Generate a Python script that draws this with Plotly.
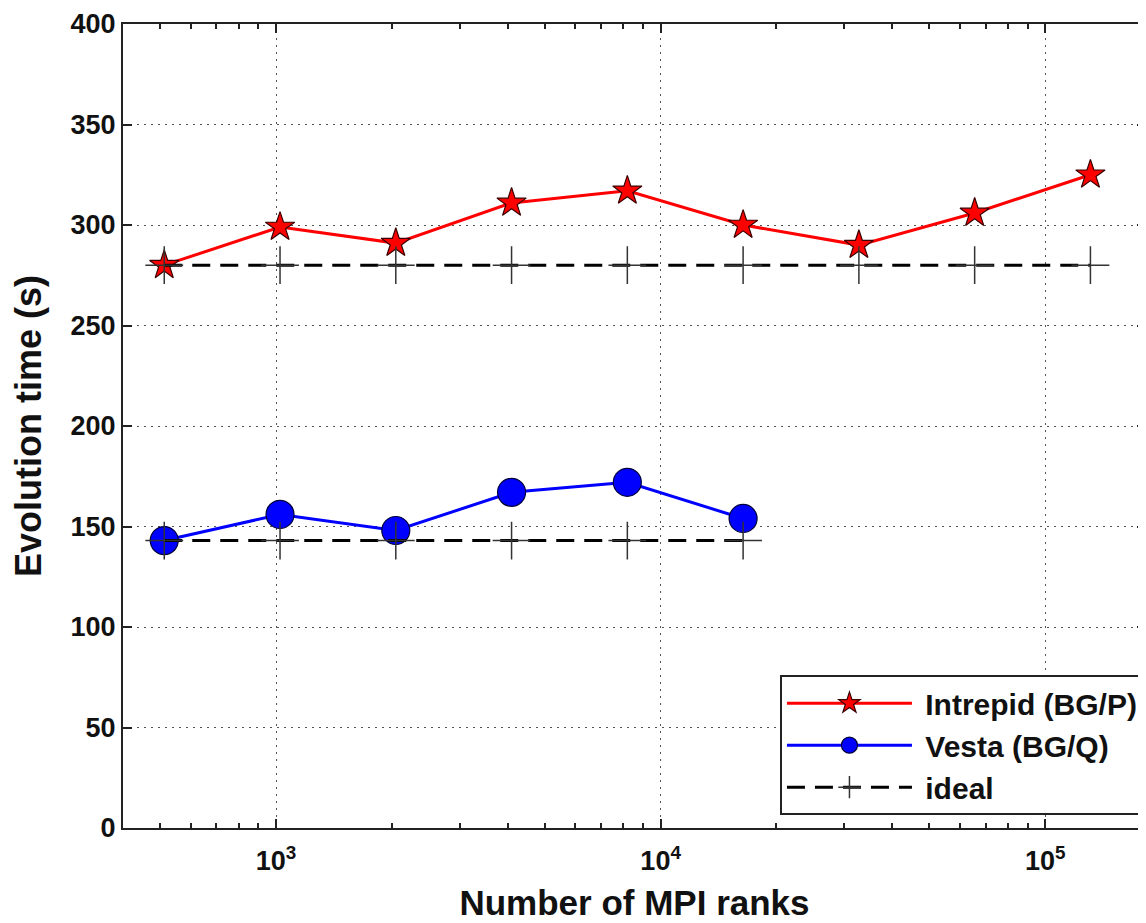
import plotly.graph_objects as go

# MPI ranks (log axis) and evolution times
ranks = [512, 1024, 2048, 4096, 8192, 16384, 32768, 65536, 131072]
intrepid = [280, 299, 291, 311, 317, 300, 290, 306, 325]
vesta_ranks = [512, 1024, 2048, 4096, 8192, 16384]
vesta = [143, 156, 148, 167, 172, 154]
ideal_intrepid = [280] * len(ranks)
ideal_vesta = [143] * len(vesta_ranks)

x_tickvals = [1e3, 1e4, 1e5]
x_ticktext = ["10<sup>3</sup>", "10<sup>4</sup>", "10<sup>5</sup>"]
y_tickvals = [0, 50, 100, 150, 200, 250, 300, 350, 400]

FONT = "Liberation Sans, Arial, sans-serif"

fig = go.Figure()

cross = dict(symbol="cross-thin", size=27, color="#333",
             line={"color": "#333", "width": 1.5})
dash = "18px,10px"

fig.add_trace(go.Scatter(
    x=ranks, y=intrepid, mode="lines+markers", name="&nbsp;Intrepid (BG/P)",
    line={"color": "#ff0000", "width": 3},
    marker={"symbol": "star", "size": 22, "color": "#ff0000",
            "line": {"color": "#3a0000", "width": 1.2}},
    legendgroup="a",
))
fig.add_trace(go.Scatter(
    x=vesta_ranks, y=vesta, mode="lines+markers", name="&nbsp;Vesta (BG/Q)",
    line={"color": "#0000ff", "width": 3},
    marker={"symbol": "circle", "size": 28, "color": "#0000ff",
            "line": {"color": "#00003a", "width": 1.2}},
    legendgroup="b",
))
fig.add_trace(go.Scatter(
    x=ranks, y=ideal_intrepid, mode="lines+markers", name="&nbsp;ideal",
    line={"color": "black", "width": 3, "dash": dash},
    marker=cross, legendgroup="c",
))
fig.add_trace(go.Scatter(
    x=vesta_ranks, y=ideal_vesta, mode="lines+markers", name="ideal",
    line={"color": "black", "width": 3, "dash": dash},
    marker=cross, showlegend=False, legendgroup="c",
))

axis_common = dict(
    showline=True, linecolor="#222", linewidth=2, mirror="ticks",
    ticks="inside", tickcolor="#222", tickwidth=1.5, ticklen=9,
    showgrid=True, gridcolor="#555", gridwidth=1, griddash="2px,5px",
    zeroline=False, automargin=False,
    tickfont={"family": FONT, "size": 27, "color": "#111"},
)

fig.update_xaxes(
    type="log", range=[2.602, 5.262],
    tickvals=x_tickvals, ticktext=[f"<b>{t}</b>" for t in x_ticktext],
    ticklabelstandoff=8,
    minor={"ticks": "inside", "ticklen": 5, "tickcolor": "#222",
           "dtick": "D1", "showgrid": False},
    title={"text": "<b>Number of MPI ranks</b>",
           "font": {"family": FONT, "size": 35, "color": "#111"},
           "standoff": 15},
    **axis_common,
)
fig.update_yaxes(
    range=[0, 400], tickvals=y_tickvals,
    ticktext=[f"<b>{v}</b>" for v in y_tickvals],
    title={"text": "<b>Evolution time (s)</b>",
           "font": {"family": FONT, "size": 36, "color": "#111"},
           "standoff": 18},
    **axis_common,
)

# page body has an 8px margin, so the figure is shrunk and shifted to match
fig.update_layout(
    width=1138, height=915,
    paper_bgcolor="white", plot_bgcolor="white",
    margin={"l": 115, "r": 0, "t": 16, "b": 95},
    font={"family": FONT},
    legend={
        "x": 0.998, "y": 0.016, "xanchor": "right", "yanchor": "bottom",
        "bgcolor": "white", "bordercolor": "#222", "borderwidth": 2,
        "font": {"family": FONT, "size": 30, "color": "#111", "weight": "bold"},
        "itemwidth": 125, "tracegroupgap": 0,
    },
)

fig.write_html("out.html")
